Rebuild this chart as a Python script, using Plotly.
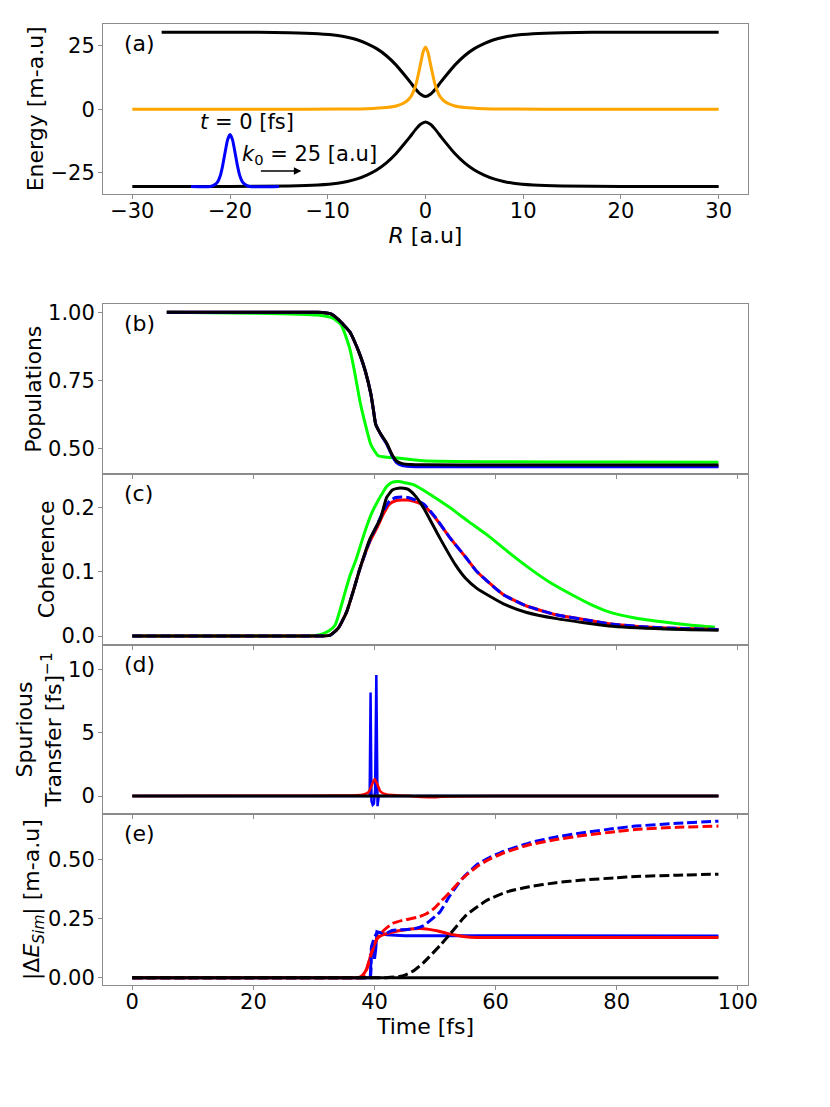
import plotly.graph_objects as go

# ---------------- panel (a): adiabatic energies, coupling, wavepacket ----------------
R_up = [-27, -20, -14, -11, -9, -8, -7, -6, -5, -4, -3, -2, -1.5, -1, -0.5, 0,
        0.5, 1, 1.5, 2, 3, 4, 5, 6, 7, 8, 9, 11, 14, 20, 30]
E_up = [30.4, 30.4, 30.2, 29.8, 29.1, 28.4, 27.4, 25.9, 23.9, 21.1, 17.4, 12.8, 10.4, 7.9, 5.9, 5.0,
        5.9, 7.9, 10.4, 12.8, 17.4, 21.1, 23.9, 25.9, 27.4, 28.4, 29.1, 29.8, 30.2, 30.4, 30.4]
R_low = [-30, -20, -14, -11, -9, -8, -7, -6, -5, -4, -3, -2, -1.5, -1, -0.5, 0,
         0.5, 1, 1.5, 2, 3, 4, 5, 6, 7, 8, 9, 11, 14, 20, 30]
E_low = [-30.4, -30.4, -30.2, -29.8, -29.1, -28.4, -27.4, -25.9, -23.9, -21.1, -17.4, -12.8, -10.4, -7.9, -5.9, -5.0,
         -5.9, -7.9, -10.4, -12.8, -17.4, -21.1, -23.9, -25.9, -27.4, -28.4, -29.1, -29.8, -30.2, -30.4, -30.4]
R_nac = [-30, -15, -9, -6, -4, -3, -2, -1.5, -1, -0.75, -0.5, -0.25, 0,
         0.25, 0.5, 0.75, 1, 1.5, 2, 3, 4, 6, 9, 15, 30]
nac = [0, 0.02, 0.1, 0.25, 0.7, 1.3, 3.0, 5.0, 9.5, 13.5, 18.0, 22.5, 24.5,
       22.5, 18.0, 13.5, 9.5, 5.0, 3.0, 1.3, 0.7, 0.25, 0.1, 0.02, 0]
R_wp = [-24, -22, -21.5, -21.25, -21, -20.75, -20.5, -20.25, -20,
        -19.75, -19.5, -19.25, -19, -18.75, -18.5, -18, -15]
wp = [-30.4, -30.4, -29.5, -28.5, -26.2, -22.1, -16.8, -11.95, -9.9,
      -11.95, -16.8, -22.1, -26.2, -28.5, -29.5, -30.4, -30.4]

# ---------------- panel (b): populations ----------------
t_pop = [5.7, 20, 28, 30.6, 32.8, 34.1, 35.9, 36.7, 37.6, 38.5, 39.4, 39.8, 40.2, 41.1, 42.0,
         42.9, 43.7, 44.6, 46, 48.1, 60, 80, 96.8]
pop_black = [1.0, 1.0, 1.0, 1.0, 0.994, 0.972, 0.929, 0.893, 0.844, 0.783, 0.70, 0.645, 0.588, 0.551, 0.521,
             0.478, 0.454, 0.445, 0.442, 0.441, 0.44, 0.44, 0.44]
pop_blue = [1.0, 1.0, 1.0, 1.0, 0.994, 0.972, 0.929, 0.893, 0.844, 0.783, 0.70, 0.645, 0.59, 0.55, 0.518,
            0.474, 0.448, 0.438, 0.435, 0.434, 0.434, 0.434, 0.434]
pop_red = [1.0, 1.0, 1.0, 1.0, 0.994, 0.972, 0.929, 0.893, 0.844, 0.783, 0.70, 0.645, 0.59, 0.55, 0.519,
           0.476, 0.45, 0.44, 0.437, 0.436, 0.436, 0.436, 0.436]
t_pop_g = [5.7, 20, 30.6, 33.2, 34.5, 35.9, 36.7, 37.6, 38.5, 39.4, 40.6, 43.7, 48.1, 60, 80, 96.8]
pop_green = [1.0, 0.997, 0.99, 0.978, 0.954, 0.868, 0.783, 0.673, 0.588, 0.515, 0.474, 0.466,
             0.456, 0.452, 0.451, 0.45]

# ---------------- panel (c): coherence ----------------
t_coh_k = [0, 20, 30, 32.6, 34, 35.4, 36.5, 37.6, 39.3, 41.0, 42.0, 43.0, 44.2, 45.5, 46.5, 48.1,
           50.8, 53.4, 55, 56.9, 61.3, 65, 70.1, 78.7, 88, 96.8]
coh_black = [0, 0, 0, 0.001, 0.012, 0.0375, 0.07, 0.105, 0.152, 0.183, 0.215, 0.227, 0.23, 0.228, 0.22, 0.199,
             0.152, 0.11, 0.09, 0.074, 0.05, 0.037, 0.027, 0.0156, 0.011, 0.009]
t_coh_b = [0, 20, 30, 32.6, 34, 35.4, 36.5, 37.6, 39.3, 40.4, 41.5, 42.5, 43.5, 44.5, 45.5, 46.5, 48.1,
           50, 52.5, 55, 56.9, 59, 61.3, 65, 70, 75, 78.7, 85, 90, 96.8]
coh_blue = [0, 0, 0, 0.001, 0.012, 0.0375, 0.07, 0.105, 0.15, 0.172, 0.195, 0.21, 0.215, 0.216, 0.215, 0.212,
            0.205, 0.185, 0.152, 0.123, 0.1, 0.082, 0.064, 0.047, 0.033, 0.025, 0.019, 0.014, 0.012, 0.01]
coh_red = [0, 0, 0, 0.001, 0.012, 0.0375, 0.07, 0.105, 0.148, 0.168, 0.19, 0.205, 0.21, 0.211, 0.211, 0.209,
           0.203, 0.184, 0.152, 0.123, 0.1, 0.082, 0.064, 0.047, 0.033, 0.025, 0.019, 0.014, 0.012, 0.01]
t_coh_g = [0, 20, 29, 31, 32.5, 33.5, 34.3, 35.2, 36, 37, 38, 38.7, 39.5, 40.4, 41.2, 42, 43, 44, 45, 46.4,
           49, 52.5, 55.5, 58.6, 62, 65.6, 69, 72.6, 75.5, 78.7, 83, 87.5, 92, 96.2]
coh_green = [0, 0, 0, 0.002, 0.008, 0.017, 0.04, 0.07, 0.095, 0.12, 0.15, 0.17, 0.19, 0.207, 0.22, 0.232,
             0.239, 0.24, 0.238, 0.235, 0.221, 0.199, 0.178, 0.157, 0.131, 0.105, 0.083, 0.064, 0.05, 0.0375,
             0.028, 0.022, 0.017, 0.0135]

# ---------------- panel (d): spurious transfer ----------------
t_sp_b = [0, 39.2, 39.35, 39.5, 39.7, 39.9, 40.1, 40.3, 40.5, 40.7, 96.8]
sp_blue = [0, 0, 8.2, -0.4, -0.7, -0.6, 0.5, 9.6, -0.8, 0, 0]
t_sp_r = [0, 20, 30, 36, 38, 39, 39.5, 40, 40.5, 41, 42, 44, 46, 48, 50, 52, 60, 96.8]
sp_red = [0, 0.02, 0.03, 0.05, 0.1, 0.3, 0.8, 1.35, 0.9, 0.35, 0.12, 0.05, 0, -0.08, -0.1, -0.03, 0, 0]
t_sp_k = [0, 96.8]
sp_black = [0, 0]

# ---------------- panel (e): energy error ----------------
t_e_b = [0, 39.3, 39.5, 39.8, 40.0, 40.2, 40.4, 41, 42, 45, 60, 96.8]
e_blue = [0, 0, 0.13, 0.13, 0.08, 0.12, 0.195, 0.19, 0.182, 0.178, 0.177, 0.177]
t_e_r = [0, 20, 36, 37.3, 38, 38.7, 39.5, 40.4, 41.2, 42, 44.2, 46, 47.5, 49, 50.5, 52, 53.5, 55, 57, 60,
         80, 96.8]
e_red = [0, 0, 0, 0, 0.01, 0.036, 0.105, 0.165, 0.18, 0.187, 0.2, 0.207, 0.209, 0.205, 0.198, 0.188, 0.18,
         0.174, 0.171, 0.171, 0.171, 0.171]
t_e_bd = [0, 20, 36, 38.8, 39.3, 39.5, 40.4, 42, 42.9, 46.4, 48.1, 50, 50.8, 52.5, 54.5, 56.9, 59, 61.3,
          65.6, 70, 74.4, 80, 83.1, 90, 96.8]
e_blue_d = [0, 0, 0, 0, 0, 0.13, 0.19, 0.19, 0.2, 0.207, 0.221, 0.26, 0.279, 0.35, 0.42, 0.479, 0.51, 0.536,
            0.572, 0.597, 0.615, 0.634, 0.643, 0.655, 0.664]
t_e_rd = [0, 20, 35, 37.5, 38, 38.7, 39.5, 40.4, 41.5, 42.9, 44.6, 47.2, 48.5, 49.8, 51, 52.5, 54.5, 56.9,
          59, 61.3, 65.6, 70, 74.4, 80, 83.1, 90, 96.8]
e_red_d = [0, 0, 0, 0, 0, 0.036, 0.105, 0.165, 0.2, 0.229, 0.243, 0.257, 0.27, 0.293, 0.325, 0.364, 0.42,
           0.471, 0.503, 0.529, 0.564, 0.586, 0.603, 0.62, 0.629, 0.638, 0.643]
t_e_kd = [0, 20, 38, 42, 44.6, 46.5, 48.1, 50.8, 52.5, 55.1, 58.6, 62, 65.6, 70, 74.4, 80, 83.1, 90, 96.8]
e_black_d = [0, 0, 0, 0, 0.007, 0.03, 0.064, 0.136, 0.186, 0.264, 0.329, 0.365, 0.386, 0.403, 0.414,
             0.424, 0.429, 0.435, 0.439]
t_e_k = [0, 96.8]
e_black = [0, 0]

BLUE, RED, GREEN, ORANGE, BLACK = "#0000ff", "#ff0000", "#00ff00", "#ffa500", "#000000"
DASH = "10px,4px"

fig = go.Figure()


def line(x, y, color, ax="", dash="solid", shape="spline", width=3):
    fig.add_trace(go.Scatter(
        x=x, y=y, mode="lines", xaxis="x" + ax, yaxis="y" + ax,
        line=dict(color=color, width=width, dash=dash, shape=shape, smoothing=0.5),
        showlegend=False, hoverinfo="skip"))


# (a)
line(R_up, E_up, BLACK)
line(R_low, E_low, BLACK)
line(R_nac, nac, ORANGE)
line(R_wp, wp, BLUE)
# (b)
line(t_pop_g, pop_green, GREEN, "2")
line(t_pop, pop_red, RED, "2")
line(t_pop, pop_blue, BLUE, "2")
line(t_pop, pop_black, BLACK, "2")
# (c)
line(t_coh_g, coh_green, GREEN, "3")
line(t_coh_b, coh_red, RED, "3")
line(t_coh_b, coh_blue, BLUE, "3", dash=DASH)
line(t_coh_k, coh_black, BLACK, "3")
# (d)
line(t_sp_b, sp_blue, BLUE, "4", shape="linear", width=2.5)
line(t_sp_r, sp_red, RED, "4", width=2.5)
line(t_sp_k, sp_black, BLACK, "4", shape="linear")
# (e)
line(t_e_b, e_blue, BLUE, "5", shape="linear")
line(t_e_r, e_red, RED, "5")
line(t_e_bd, e_blue_d, BLUE, "5", dash=DASH)
line(t_e_rd, e_red_d, RED, "5", dash=DASH)
line(t_e_kd, e_black_d, BLACK, "5", dash=DASH)
line(t_e_k, e_black, BLACK, "5", shape="linear")

SPINE = "#8c8c8c"
TICKFONT = dict(family="DejaVu Sans", size=21, color="black")
TITLEFONT = dict(family="DejaVu Sans", size=22, color="black")


def xax(**kw):
    base = dict(showline=True, linecolor=SPINE, linewidth=1, mirror=True, ticks="outside",
                ticklen=4, tickcolor=SPINE, tickwidth=1, showgrid=False, zeroline=False,
                tickfont=TICKFONT, ticklabelstandoff=-6)
    base.update(kw)
    return base


def yax(**kw):
    base = dict(showline=True, linecolor=SPINE, linewidth=1, mirror=True, ticks="outside",
                ticklen=4, tickcolor=SPINE, tickwidth=1, showgrid=False, zeroline=False,
                tickfont=TICKFONT, ticklabelstandoff=-1, automargin=True)
    base.update(kw)
    return base


T_RANGE = [-4.84, 101.68]
T_TICKS = [0, 20, 40, 60, 80, 100]
X_DOM = [0, 1]

# the page adds an 8 px body margin, so the margins here are 8 px smaller on the left/top
fig.update_layout(
    width=830, height=1107,
    margin=dict(l=95, r=90, t=14, b=130),
    paper_bgcolor="white", plot_bgcolor="white",
    font=TICKFONT,
    xaxis=xax(domain=X_DOM, anchor="y", range=[-33, 33], tickvals=[-30, -20, -10, 0, 10, 20, 30],
              title=dict(text="<i>R</i> [a.u]", font=TITLEFONT, standoff=0)),
    yaxis=yax(domain=[0.8235, 1.0], anchor="x", range=[-33.2, 33.6], tickvals=[-25, 0, 25],
              title=dict(text="Energy [m-a.u]", font=TITLEFONT, standoff=0)),
    xaxis2=xax(domain=X_DOM, anchor="y2", range=T_RANGE, tickvals=T_TICKS, showticklabels=False),
    yaxis2=yax(domain=[0.5317, 0.7082], anchor="x2", range=[0.407, 1.029], tickvals=[0.5, 0.75, 1.0],
               tickformat=".2f", title=dict(text="Populations", font=TITLEFONT, standoff=0)),
    xaxis3=xax(domain=X_DOM, anchor="y3", range=T_RANGE, tickvals=T_TICKS, showticklabels=False),
    yaxis3=yax(domain=[0.3541, 0.5317], anchor="x3", range=[-0.0135, 0.2515], tickvals=[0, 0.1, 0.2],
               tickformat=".1f", title=dict(text="Coherence", font=TITLEFONT, standoff=0)),
    xaxis4=xax(domain=X_DOM, anchor="y4", range=T_RANGE, tickvals=T_TICKS, showticklabels=False),
    yaxis4=yax(domain=[0.1776, 0.3541], anchor="x4", range=[-1.45, 12.0], tickvals=[0, 5, 10],
               title=dict(text="Spurious<br>Transfer [fs]<sup>−1</sup>", font=TITLEFONT, standoff=0)),
    xaxis5=xax(domain=X_DOM, anchor="y5", range=T_RANGE, tickvals=T_TICKS,
               title=dict(text="Time [fs]", font=TITLEFONT, standoff=0)),
    yaxis5=yax(domain=[0.0, 0.1776], anchor="x5", range=[-0.031, 0.693], tickvals=[0, 0.25, 0.5],
               tickformat=".2f",
               title=dict(text="|Δ<i>E</i><sub><i>Sim</i></sub>| [m-a.u]", font=TITLEFONT, standoff=0)),
)

panel_labels = ["(a)", "(b)", "(c)", "(d)", "(e)"]
for i, lab in enumerate(panel_labels):
    suf = "" if i == 0 else str(i + 1)
    fig.add_annotation(text=lab, xref="x%s domain" % suf, yref="y%s domain" % suf,
                       x=0.03, y=0.885, xanchor="left", yanchor="middle",
                       showarrow=False, font=TITLEFONT)

fig.add_annotation(text="<i>t</i> = 0 [fs]", x=-18.3, y=-5, xref="x", yref="y",
                   showarrow=False, font=TICKFONT)
fig.add_annotation(text="<i>k</i><sub>0</sub> = 25 [a.u]", x=-11.9, y=-17.8, xref="x", yref="y",
                   showarrow=False, font=TICKFONT)
fig.add_annotation(text="", x=-12.7, y=-24.3, ax=-17.0, ay=-24.3, xref="x", yref="y",
                   axref="x", ayref="y", showarrow=True, arrowhead=2, arrowsize=1,
                   arrowwidth=1.5, arrowcolor="black")

fig.write_html("out.html")
